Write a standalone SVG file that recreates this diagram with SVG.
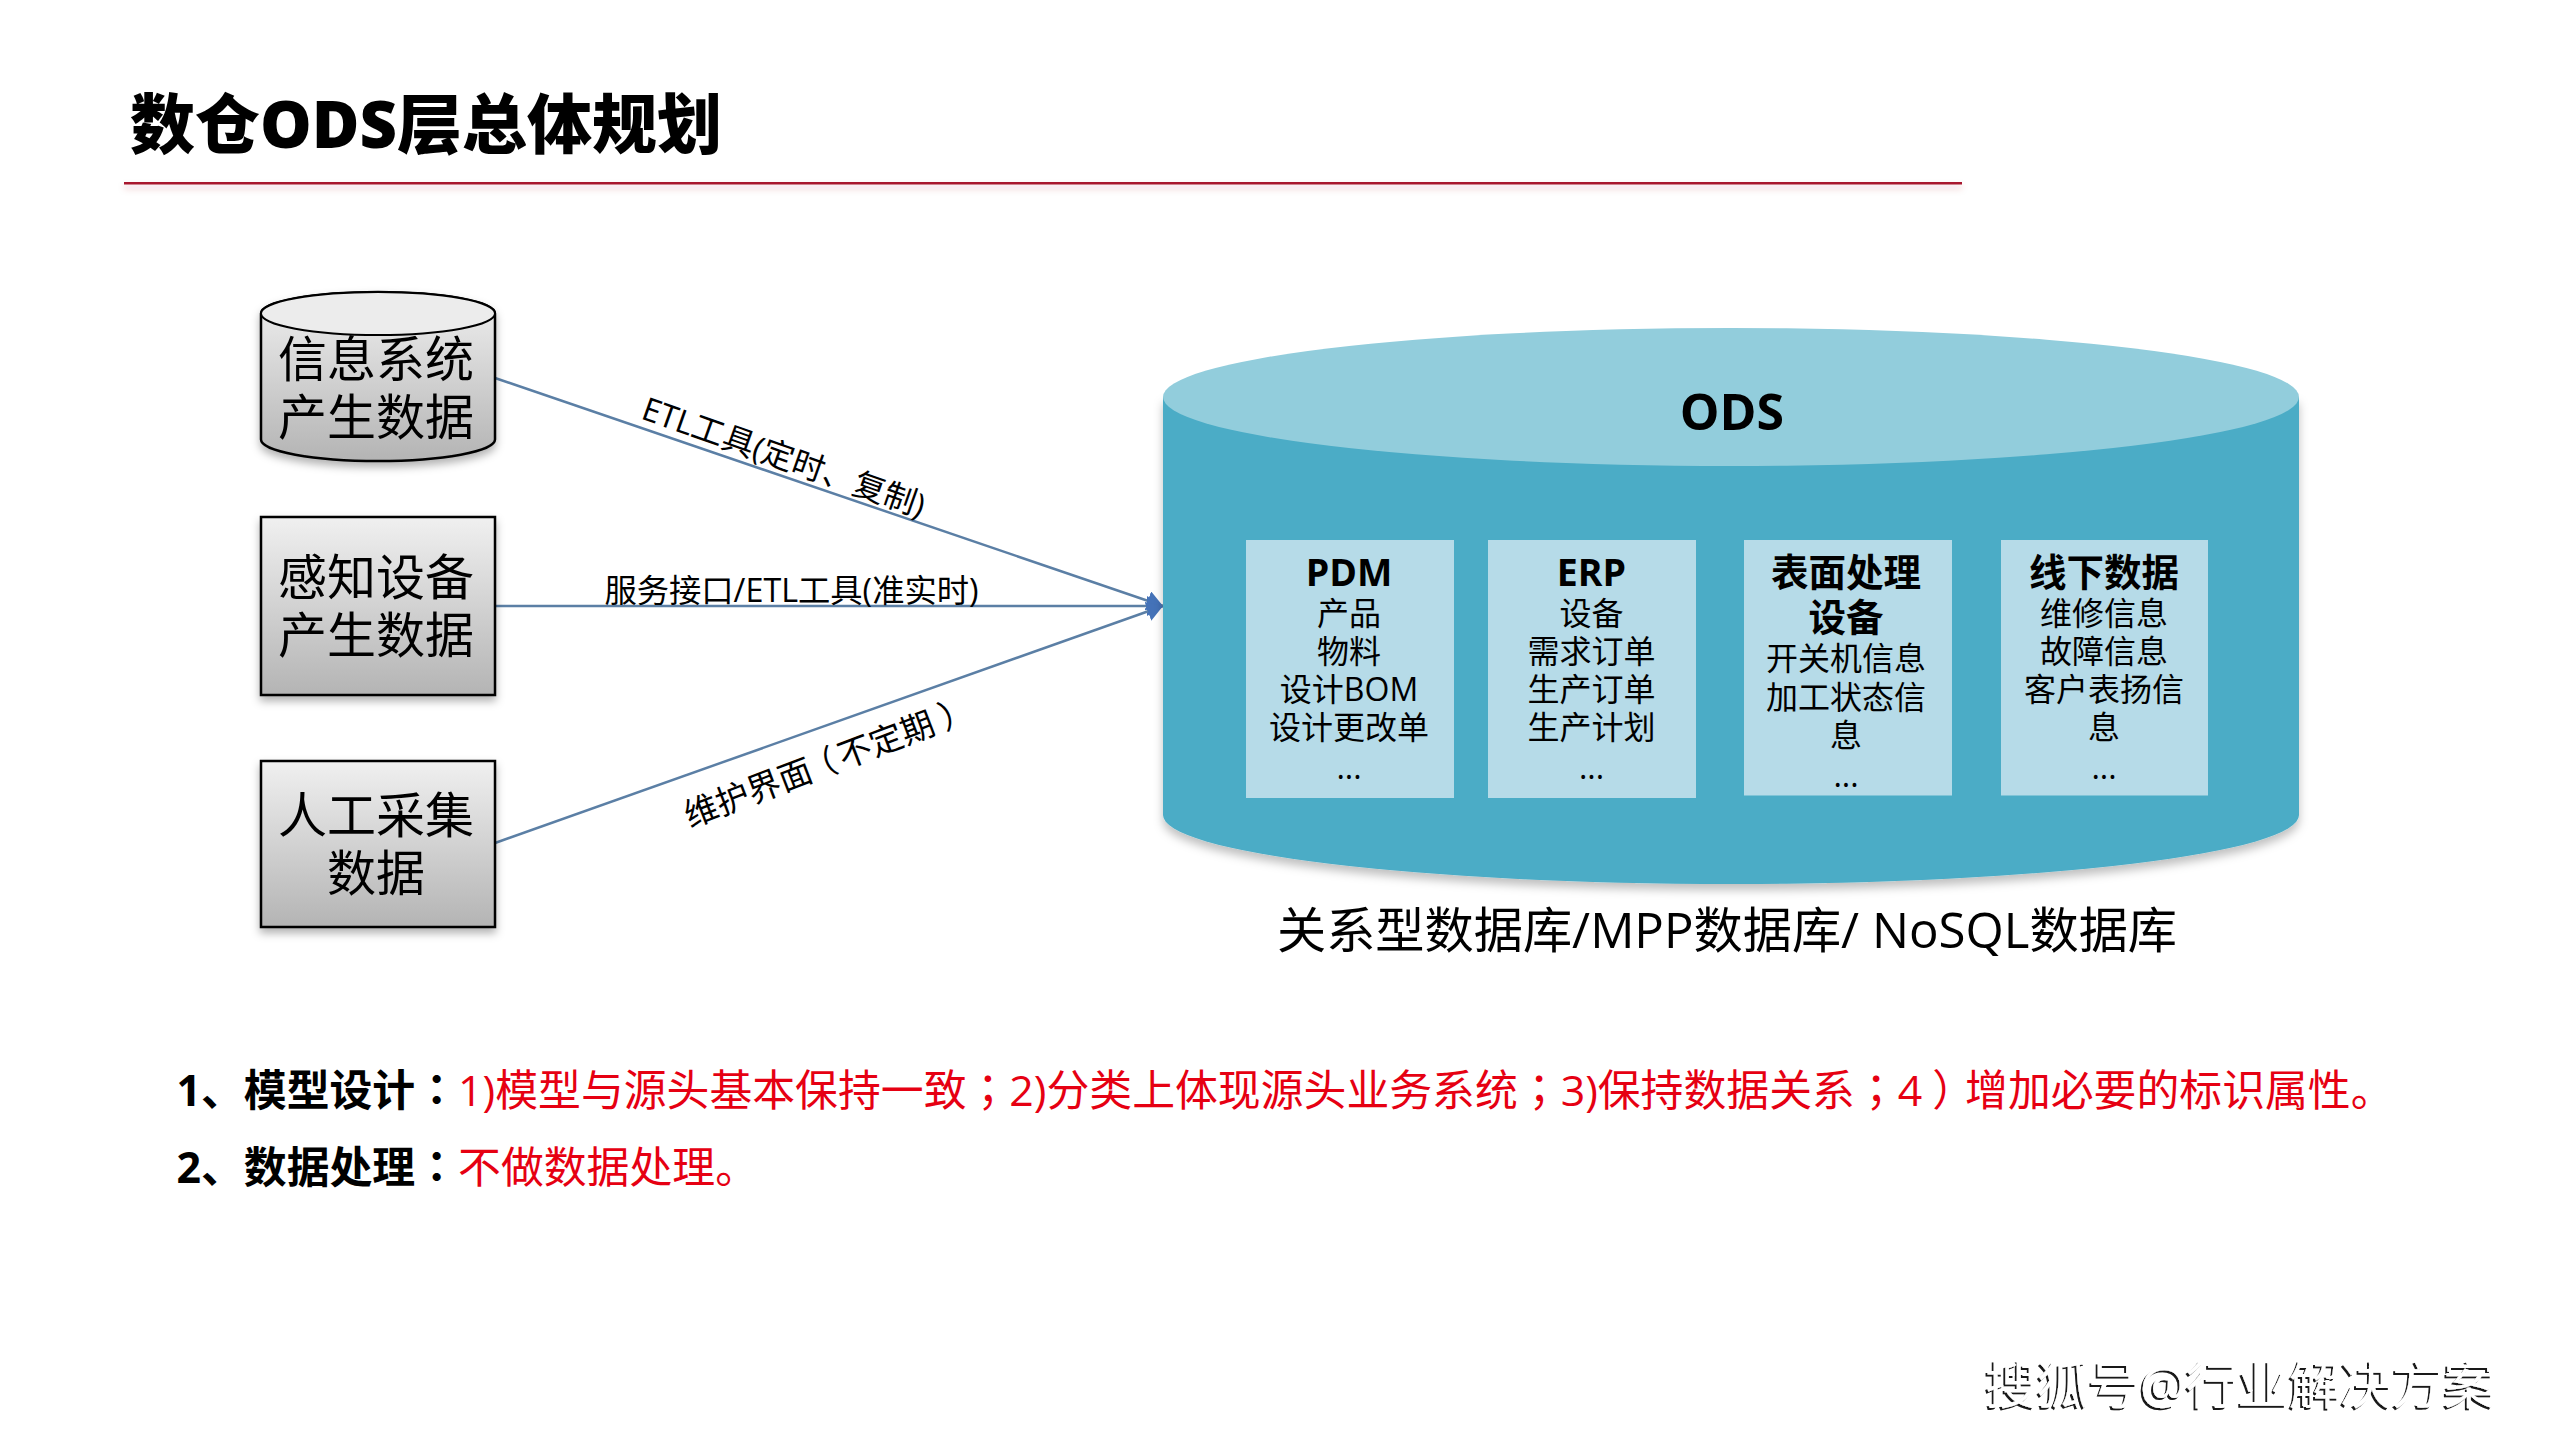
<svg xmlns="http://www.w3.org/2000/svg" width="2560" height="1440" viewBox="0 0 2560 1440">
<style>
text{font-family:"Open Sans","Noto Sans CJK SC",sans-serif;fill:#000;text-anchor:middle}
.src{font-size:49px}
.lbl{font-size:32.3px}
.h{font-size:37.5px;font-weight:700}
.b{font-size:32px}
.note{font-size:42.85px;text-anchor:start}
.nb{font-weight:700}
.red{fill:#e60012}
.tc{font-family:"Noto Sans CJK TC",sans-serif}
.box{fill:#b6dbe8}
.srcshape{fill:url(#g);stroke:#000;stroke-width:2.5;filter:url(#s)}
.conn{stroke:#5b7fa5;stroke-width:2.5;fill:none;marker-end:url(#a)}
</style>
<defs>
<linearGradient id="g" x1="0" y1="0" x2="0" y2="1"><stop offset="0" stop-color="#f0f0f0"/><stop offset="1" stop-color="#b4b4b4"/></linearGradient>
<filter id="s" x="-10%" y="-10%" width="120%" height="125%"><feDropShadow dx="0" dy="5" stdDeviation="4" flood-color="#000" flood-opacity=".3"/></filter>
<filter id="s2" x="-5%" y="-5%" width="110%" height="112%"><feDropShadow dx="0" dy="6" stdDeviation="5" flood-color="#000" flood-opacity=".25"/></filter>
<filter id="s3" x="-2%" y="-300%" width="104%" height="900%"><feDropShadow dx="0" dy="4" stdDeviation="3" flood-color="#a8172f" flood-opacity=".25"/></filter>
<filter id="w" x="-5%" y="-20%" width="110%" height="140%"><feDropShadow dx="-2" dy="2" stdDeviation="0.6" flood-color="#000" flood-opacity=".9"/></filter>
<marker id="a" viewBox="0 0 16 20" refX="16" refY="10" markerWidth="16" markerHeight="20" markerUnits="userSpaceOnUse" orient="auto"><path d="M0 0L16 10L0 20Z" fill="#4472b8"/></marker>
</defs>
<rect width="2560" height="1440" fill="#fff"/>
<g id="title">
<text x="426" y="148" style="font-size:65px;font-weight:900">数仓ODS层总体规划</text>
<rect x="124" y="182" width="1838" height="2.5" fill="#a8172f" filter="url(#s3)"/>
</g>
<g id="connectors">
<line class="conn" x1="495" y1="378" x2="1163" y2="606"/>
<path class="conn" d="M495 606H1163"/>
<line class="conn" x1="495" y1="843" x2="1163" y2="606"/>
</g>
<g id="labels">
<text class="lbl" transform="translate(780 468) rotate(19.5)">ETL工具(定时、复制)</text>
<text class="lbl" x="791.5" y="601.5">服务接口/ETL工具(准实时)</text>
<text class="lbl" style="font-size:33.5px" transform="translate(833 773) rotate(-21)">维护界面<tspan class="tc" dx="-7">（</tspan><tspan dx="4">不定期</tspan><tspan class="tc" dx="8">）</tspan></text>
</g>
<g id="src1">
<path class="srcshape" d="M261 313.5A117 21.5 0 0 1 495 313.5V439.5A117 21.5 0 0 1 261 439.5Z"/>
<ellipse cx="378" cy="313.5" rx="117" ry="21.5" fill="#ececec" stroke="#000" stroke-width="2"/>
<text class="src" x="376" y="377">信息系统</text>
<text class="src" x="376" y="435">产生数据</text>
</g>
<g id="src2">
<rect class="srcshape" x="261" y="517" width="234" height="178"/>
<text class="src" x="376" y="595">感知设备</text>
<text class="src" x="376" y="653">产生数据</text>
</g>
<g id="src3">
<rect class="srcshape" x="261" y="761" width="234" height="166"/>
<text class="src" x="376" y="833">人工采集</text>
<text class="src" x="376" y="891">数据</text>
</g>
<g id="ods">
<path d="M1163 397V815A568 69 0 0 0 2299 815V397Z" fill="#4bacc6" filter="url(#s2)"/>
<ellipse cx="1731" cy="397" rx="568" ry="69" fill="#92cddc"/>
<text x="1732" y="429.5" style="font-size:50px;font-weight:700">ODS</text>
</g>
<g id="pdm">
<rect class="box" x="1246" y="540" width="208" height="258"/>
<text class="h" x="1349" y="585.5">PDM</text>
<text class="b" x="1349" y="625">产品</text>
<text class="b" x="1349" y="663">物料</text>
<text class="b" x="1349" y="701">设计BOM</text>
<text class="b" x="1349" y="739">设计更改单</text>
<text class="b" x="1349" y="779">...</text>
</g>
<g id="erp">
<rect class="box" x="1488" y="540" width="208" height="258"/>
<text class="h" x="1591.5" y="585.5">ERP</text>
<text class="b" x="1591.5" y="625">设备</text>
<text class="b" x="1591.5" y="663">需求订单</text>
<text class="b" x="1591.5" y="701">生产订单</text>
<text class="b" x="1591.5" y="739">生产计划</text>
<text class="b" x="1591.5" y="779">...</text>
</g>
<g id="surface">
<rect class="box" x="1744" y="540" width="208" height="255.5"/>
<text class="h" x="1846" y="585.5">表面处理</text>
<text class="h" x="1846" y="631">设备</text>
<text class="b" x="1846" y="670">开关机信息</text>
<text class="b" x="1846" y="709">加工状态信</text>
<text class="b" x="1846" y="747">息</text>
<text class="b" x="1846" y="787">...</text>
</g>
<g id="offline">
<rect class="box" x="2001" y="540" width="207" height="255.5"/>
<text class="h" x="2104" y="585.5">线下数据</text>
<text class="b" x="2104" y="625">维修信息</text>
<text class="b" x="2104" y="663">故障信息</text>
<text class="b" x="2104" y="701">客户表扬信</text>
<text class="b" x="2104" y="739">息</text>
<text class="b" x="2104" y="779">...</text>
</g>
<text x="1727" y="948" style="font-size:49.2px">关系型数据库/MPP数据库/ NoSQL数据库</text>
<g id="notes">
<text class="note" x="176.5" y="1106"><tspan class="nb">1、模型设计<tspan class="tc">：</tspan></tspan><tspan class="red">1)模型与源头基本保持一致<tspan class="tc">；</tspan>2)分类上体现源头业务系统<tspan class="tc">；</tspan>3)保持数据关系<tspan class="tc">；</tspan>4<tspan class="tc" dx="10">）</tspan><tspan dx="-10">增加必要的标识属性。</tspan></tspan></text>
<text class="note" x="176.5" y="1183"><tspan class="nb">2、数据处理<tspan class="tc">：</tspan></tspan><tspan class="red">不做数据处理。</tspan></text>
</g>
<text x="2240" y="1404" style="font-size:51.5px;fill:#fff;filter:url(#w)">搜狐号@行业解决方案</text>
</svg>
